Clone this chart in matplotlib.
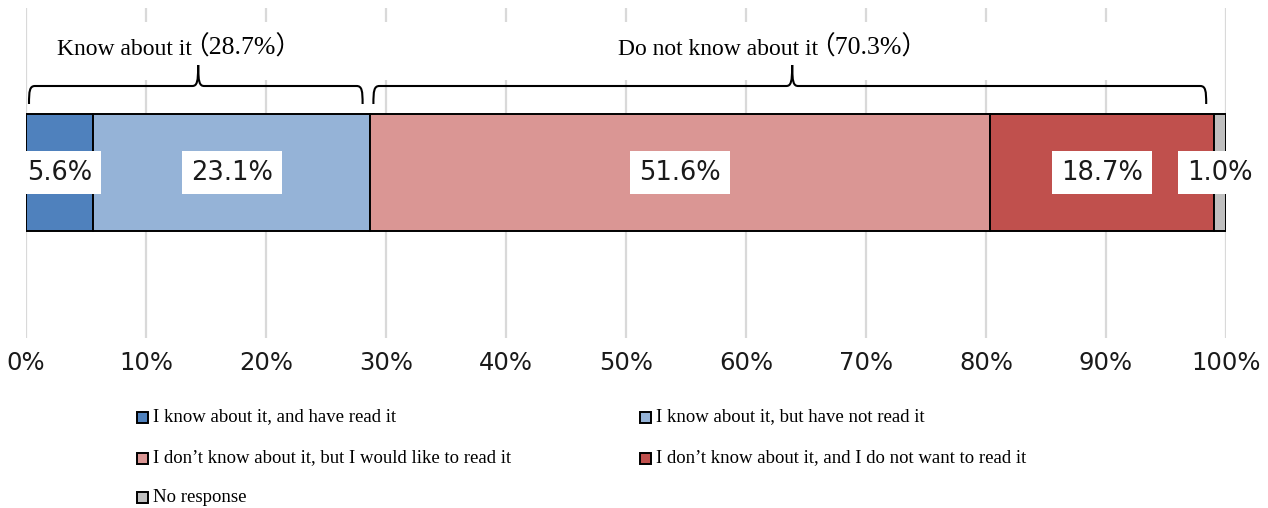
import numpy as np
import matplotlib
matplotlib.use("Agg")
import matplotlib.pyplot as plt
from matplotlib.path import Path
from matplotlib.patches import PathPatch, Rectangle

# survey shares (%), left to right along the bar
categories = [
    "I know about it, and have read it",
    "I know about it, but have not read it",
    "I don\u2019t know about it, but I would like to read it",
    "I don\u2019t know about it, and I do not want to read it",
    "No response",
]
shares = [5.6, 23.1, 51.6, 18.7, 1.0]
colors = ["#4f81bd", "#95b3d7", "#da9694", "#c0504d", "#bfbfbf"]

# brace groups: label, first and last category index
group_names = ["Know about it", "Do not know about it"]
group_members = [(0, 1), (2, 3)]

tick_values = np.arange(0, 101, 10)

sans = ["DejaVu Sans"]
serif = ["Liberation Serif", "Noto Sans CJK JP"]

W, H = 1268, 508
fig = plt.figure(figsize=(W / 100, H / 100), dpi=100)

# main axes: x in percent, y in pixel-like units (0 at the bottom of the grid)
ax = fig.add_axes([26 / W, (H - 338) / H, 1200 / W, 330 / H])
ax.set_xlim(0, 100)
ax.set_ylim(0, 330)
ax.set_axisbelow(True)
ax.xaxis.grid(True, color="#d9d9d9", lw=1.6)
ax.yaxis.set_visible(False)
for s in ax.spines.values():
    s.set_visible(False)
ax.set_xticks(tick_values)
ax.set_xticklabels([f"{v}%" for v in tick_values], family=sans, fontsize=17.5, color="#1a1a1a")
ax.tick_params(axis="x", length=0, pad=9)

bar_y, bar_h = 165.5, 117
lefts = np.concatenate([[0], np.cumsum(shares)[:-1]])
ax.barh([bar_y] * len(shares), shares, left=lefts, height=bar_h, color=colors,
        edgecolor="black", linewidth=1.4, zorder=2)

# value labels in white boxes
for left, v in zip(lefts, shares):
    ax.text(left + v / 2, bar_y, f"{v:.1f}%", ha="center", va="center",
            family=sans, fontsize=18.5, color="#1a1a1a", zorder=4,
            bbox=dict(boxstyle="square,pad=0.35", fc="white", ec="none"))


def brace(ax, x0, x1, xm, yb, drop=18, rise=21):
    r = 0.5
    verts = [
        (x0, yb - drop),
        (x0, yb - 5), (x0 + 0.05, yb), (x0 + r, yb),
        (xm - r, yb),
        (xm - 0.1, yb), (xm, yb + 4), (xm, yb + rise),
        (xm, yb + 4), (xm + 0.1, yb), (xm + r, yb),
        (x1 - r, yb),
        (x1 - 0.05, yb), (x1, yb - 5), (x1, yb - drop),
    ]
    codes = [Path.MOVETO,
             Path.CURVE4, Path.CURVE4, Path.CURVE4,
             Path.LINETO,
             Path.CURVE4, Path.CURVE4, Path.CURVE4,
             Path.CURVE4, Path.CURVE4, Path.CURVE4,
             Path.LINETO,
             Path.CURVE4, Path.CURVE4, Path.CURVE4]
    ax.add_patch(PathPatch(Path(verts, codes), fc="none", ec="black", lw=1.5,
                           zorder=3, clip_on=False))


renderer = fig.canvas.get_renderer()
ends = np.cumsum(shares)
for name, (i0, i1) in zip(group_names, group_members):
    start, end = lefts[i0], ends[i1]
    total = sum(shares[i0:i1 + 1])
    mid = (start + end) / 2
    # white panel hides the grid behind the group caption
    ax.add_patch(Rectangle((start + 0.2, 258), end - start - 0.8, 58,
                           fc="white", ec="none", zorder=1))
    brace(ax, start + 0.25, end - 0.65, mid, 252)

    # caption in two runs (name, then the bracketed total a size up), centred together
    t1 = ax.text(0, 283, name, ha="left", va="baseline", family=serif,
                 fontsize=17, color="black", zorder=4)
    t2 = ax.text(0, 283, f"\uff08{total:.1f}%\uff09", ha="left", va="baseline",
                 family=serif, fontsize=18.5, color="black", zorder=4)
    w1 = t1.get_window_extent(renderer).width
    w2 = t2.get_window_extent(renderer).width
    kern = 9  # full-width bracket carries its own spacing
    cx = ax.transData.transform((mid - 1.6, 0))[0]
    x0 = cx - (w1 + w2 - kern) / 2
    x_a = ax.transData.inverted().transform((x0, 0))[0]
    x_b = ax.transData.inverted().transform((x0 + w1 - kern, 0))[0]
    t1.set_x(x_a)
    t2.set_x(x_b)

# legend, two entries per row
leg = fig.add_axes([0, 0, 1, 1])
leg.set_xlim(0, W)
leg.set_ylim(H, 0)
leg.axis("off")
row_y = [417, 458, 497]
col_x = [137, 640]
for i, (name, c) in enumerate(zip(categories, colors)):
    x, y = col_x[i % 2], row_y[i // 2]
    leg.add_patch(Rectangle((x, y - 5.5), 11, 11, fc=c, ec="black", lw=1.4))
    leg.text(x + 16, y, name, ha="left", va="center", family=serif, fontsize=13.5,
             color="black")

fig.savefig("out.png", dpi=100)
